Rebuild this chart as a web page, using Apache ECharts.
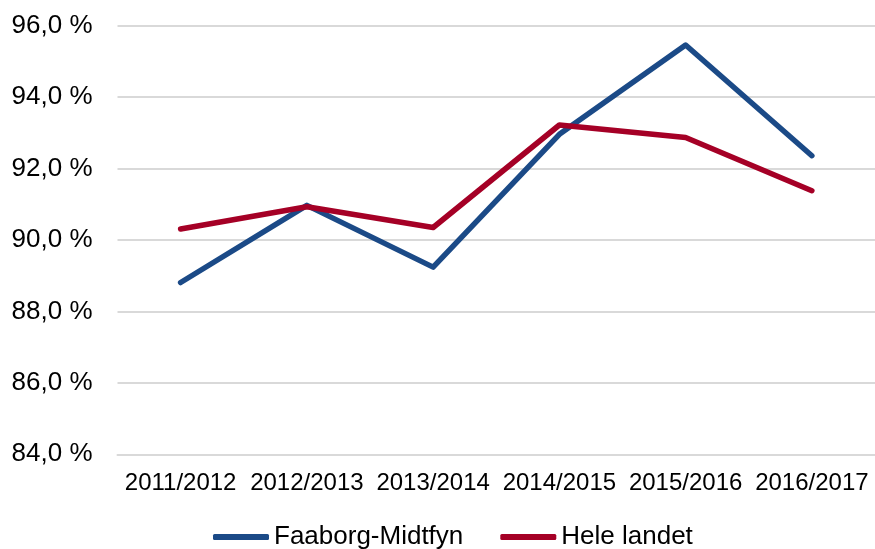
<!DOCTYPE html>
<html>
<head>
<meta charset="utf-8">
<script src="https://cdn.jsdelivr.net/npm/echarts@6/dist/echarts.min.js"></script>
<style>
  html, body { margin: 0; padding: 0; background: #fff; }
  #chart { width: 875px; height: 549px; }
</style>
</head>
<body>
<div id="chart"></div>
<script>
// skoleår
var years = ['2011/2012', '2012/2013', '2013/2014', '2014/2015', '2015/2016', '2016/2017'];

var faaborg = [88.81, 90.97, 89.24, 92.96, 95.46, 92.36];
var heleLandet = [90.31, 90.93, 90.35, 93.22, 92.87, 91.38];

var yMin = 84;
var yMax = 96;
var yStep = 2;

function fmtPct(v) {
  return v.toFixed(1).replace('.', ',') + ' %';
}

var chart = echarts.init(document.getElementById('chart'));

chart.setOption({
  backgroundColor: '#ffffff',
  animation: false,
  textStyle: {
    fontFamily: 'Liberation Sans, Arial, sans-serif'
  },
  grid: {
    left: 117.5,
    right: -6,
    top: 25.7,
    bottom: 94.7
  },
  legend: {
    left: 208,
    top: 519,
    itemGap: 37,
    itemWidth: 56,
    itemHeight: 6,
    icon: 'roundRect',
    textStyle: {
      fontSize: 26,
      color: '#000'
    },
    data: ['Faaborg-Midtfyn', 'Hele landet']
  },
  xAxis: {
    type: 'category',
    data: years,
    boundaryGap: true,
    axisLine: {
      show: true,
      lineStyle: { color: '#d9d9d9', width: 2 }
    },
    axisTick: { show: false },
    axisLabel: {
      fontSize: 24,
      color: '#000',
      margin: 17,
      interval: 0
    }
  },
  yAxis: {
    type: 'value',
    min: yMin,
    max: yMax,
    interval: yStep,
    axisLine: { show: false },
    axisTick: { show: false },
    splitLine: {
      lineStyle: { color: '#d9d9d9', width: 2 }
    },
    axisLabel: {
      fontSize: 26,
      color: '#000',
      margin: 25,
      formatter: fmtPct
    }
  },
  series: [
    {
      name: 'Faaborg-Midtfyn',
      type: 'line',
      data: faaborg,
      color: '#1b4a87',
      symbol: 'none',
      lineStyle: { width: 5.5, cap: 'round', join: 'round' }
    },
    {
      name: 'Hele landet',
      type: 'line',
      data: heleLandet,
      color: '#a50026',
      symbol: 'none',
      lineStyle: { width: 5.5, cap: 'round', join: 'round' }
    }
  ]
});
</script>
</body>
</html>
